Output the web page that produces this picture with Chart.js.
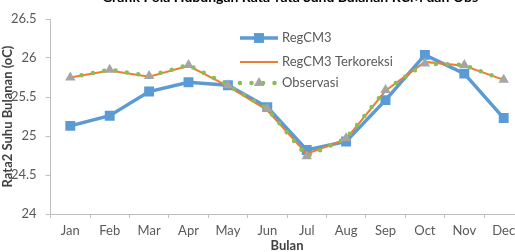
<!DOCTYPE html>
<html>
<head>
<meta charset="utf-8">
<script src="https://cdn.jsdelivr.net/npm/chart.js@4/dist/chart.umd.min.js"></script>
<style>
  html, body { margin: 0; padding: 0; background: #fff; overflow: hidden; width: 515px; height: 252px; }
  #wrap { position: absolute; left: 0; top: 0; width: 540px; height: 252px; }
  canvas { display: block; }
</style>
</head>
<body>
<div id="wrap"><canvas id="c" width="540" height="252" style="width:540px;height:252px"></canvas></div>
<script>
const chartTitle = 'Grafik Pola Hubungan Rata-rata Suhu Bulanan RCM dan Obs';
const xTitle = 'Bulan';
const yTitle = 'Rata2 Suhu Bulanan (oC)';
const months = ['Jan','Feb','Mar','Apr','May','Jun','Jul','Aug','Sep','Oct','Nov','Dec'];
const seriesNames = ['RegCM3', 'RegCM3 Terkoreksi', 'Observasi'];
const regcm3 = [25.13, 25.26, 25.57, 25.69, 25.65, 25.37, 24.82, 24.93, 25.46, 26.04, 25.80, 25.23];
const terkoreksi = [25.75, 25.84, 25.76, 25.90, 25.64, 25.33, 24.77, 24.96, 25.58, 25.95, 25.90, 25.72];
const observasi = [25.75, 25.85, 25.77, 25.91, 25.65, 25.35, 24.74, 24.97, 25.59, 25.93, 25.91, 25.72];
const yMin = 24, yMax = 26.5, yStep = 0.5;

const FONT = 'Lato, "Open Sans", "DejaVu Sans", sans-serif';
const BLUE = '#5B9BD5', ORANGE = '#ED7D31', GRAY = '#A5A5A5', GREEN = '#8DBB55';
const AXIS = '#BFBFBF', TXT = '#595959';

const extras = {
  id: 'extras',
  afterDraw(chart) {
    const ctx = chart.ctx;
    const ca = chart.chartArea;
    ctx.save();
    // title (cropped at the top like the reference)
    ctx.fillStyle = '#000';
    ctx.font = 'bold 14px ' + FONT;
    ctx.textAlign = 'center';
    ctx.textBaseline = 'alphabetic';
    ctx.fillText(chartTitle, (ca.left + ca.right) / 2 + 3, 2);
    // legend
    const x0 = 240, x1 = 278, rows = [38, 62, 83];
    chart.data.datasets.forEach((ds, i) => {
      const y = rows[i];
      const mx = (x0 + x1) / 2;
      ctx.save();
      ctx.strokeStyle = ds.borderColor;
      ctx.lineWidth = ds.borderWidth;
      ctx.lineCap = ds.borderCapStyle || 'butt';
      ctx.setLineDash(ds.borderDash || []);
      ctx.beginPath();
      ctx.moveTo(x0, y);
      ctx.lineTo(x1, y);
      ctx.stroke();
      ctx.restore();
      if (ds.pointStyle === 'rect' && ds.pointRadius > 0) {
        const s = ds.pointRadius * Math.SQRT1_2;
        ctx.fillStyle = ds.pointBackgroundColor;
        ctx.fillRect(mx - s, y - s, 2 * s, 2 * s);
      } else if (ds.pointStyle === 'triangle' && ds.pointRadius > 0) {
        const r = ds.pointRadius;
        ctx.fillStyle = ds.pointBackgroundColor;
        ctx.beginPath();
        ctx.moveTo(mx, y - r);
        ctx.lineTo(mx + r * Math.sin(Math.PI / 3), y + r / 2);
        ctx.lineTo(mx - r * Math.sin(Math.PI / 3), y + r / 2);
        ctx.closePath();
        ctx.fill();
      }
      ctx.fillStyle = TXT;
      ctx.font = '13px ' + FONT;
      ctx.textAlign = 'left';
      ctx.textBaseline = 'middle';
      ctx.fillText(ds.label, x1 + 4, y);
    });
    ctx.restore();
  }
};

new Chart(document.getElementById('c'), {
  type: 'line',
  data: {
    labels: months,
    datasets: [
      {
        label: seriesNames[0], data: regcm3, order: 2,
        borderColor: BLUE, borderWidth: 3.5, backgroundColor: BLUE,
        pointStyle: 'rect', pointRadius: 7, pointHoverRadius: 7,
        pointBackgroundColor: BLUE, pointBorderColor: BLUE, pointBorderWidth: 0
      },
      {
        label: seriesNames[1], data: terkoreksi, order: 1,
        borderColor: ORANGE, borderWidth: 2, backgroundColor: ORANGE,
        pointRadius: 0, pointHoverRadius: 0
      },
      {
        label: seriesNames[2], data: observasi, order: 0,
        borderColor: GREEN, borderWidth: 4.5, borderDash: [0, 11.5], borderCapStyle: 'round',
        backgroundColor: GRAY,
        pointStyle: 'triangle', pointRadius: 6, pointHoverRadius: 6,
        pointBackgroundColor: GRAY, pointBorderColor: GRAY, pointBorderWidth: 0
      }
    ]
  },
  options: {
    responsive: false,
    animation: false,
    layout: { padding: { top: 19, right: 16.6, left: 0, bottom: 0 } },
    plugins: {
      legend: { display: false },
      title: { display: false },
      tooltip: { enabled: false }
    },
    scales: {
      x: {
        offset: true,
        grid: { display: true, offset: true, drawOnChartArea: false, drawTicks: true, tickLength: 4, color: AXIS },
        border: { display: true, color: AXIS, width: 1 },
        ticks: { color: TXT, font: { family: FONT, size: 13 }, padding: 5, maxRotation: 0, autoSkip: false },
        title: { display: true, text: xTitle, color: '#404040', font: { family: FONT, size: 13, weight: 'bold', lineHeight: 1 }, padding: { top: 0, bottom: 0 } },
        afterFit(scale) { scale.height = 38; }
      },
      y: {
        min: yMin, max: yMax,
        grid: { display: true, drawOnChartArea: false, drawTicks: true, tickLength: 5, color: AXIS },
        border: { display: true, color: AXIS, width: 1 },
        ticks: { stepSize: yStep, color: TXT, font: { family: FONT, size: 13 }, padding: 9,
                 callback: (v) => String(Number(v)) },
        title: { display: true, text: yTitle, color: '#404040', font: { family: FONT, size: 13, weight: 'bold', lineHeight: 1 }, padding: { top: 1, bottom: 0 } },
        afterFit(scale) { scale.width = 50.6; }
      }
    }
  },
  plugins: [extras]
});
</script>
</body>
</html>
